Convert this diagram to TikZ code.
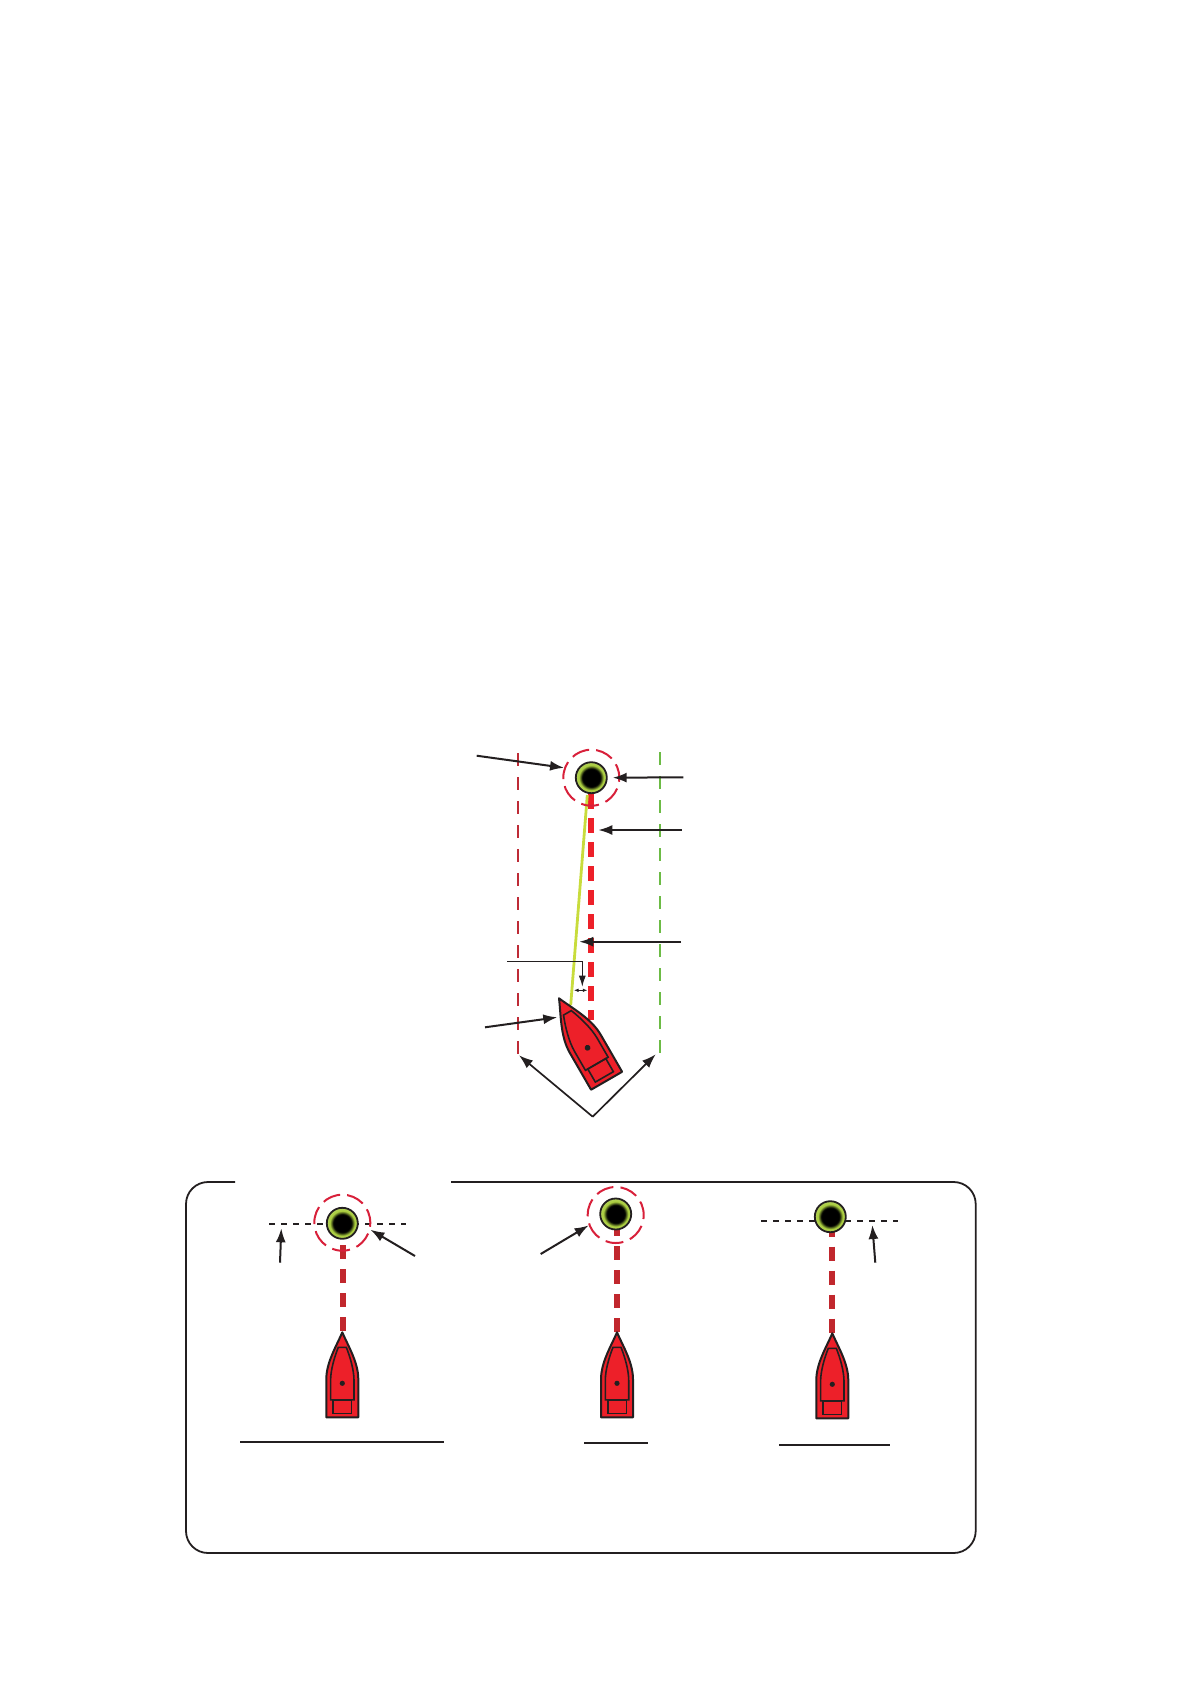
\documentclass[tikz,border=0pt]{standalone}
\usepackage{tikz}
\usetikzlibrary{arrows.meta}
\definecolor{hullred}{HTML}{ED2029}
\definecolor{routered}{HTML}{C1272D}
\definecolor{portred}{HTML}{BE2B36}
\definecolor{ringred}{HTML}{D8203A}
\definecolor{stbdgreen}{HTML}{6CBB45}
\definecolor{trackgreen}{HTML}{C8DC3C}
\definecolor{buoygreen}{HTML}{A9CC3E}
\definecolor{inkblack}{HTML}{231F20}
\pgfdeclareradialshading{buoyshade}{\pgfpointorigin}{color(0bp)=(black); color(14.5bp)=(black); color(20bp)=(buoygreen); color(25bp)=(buoygreen!85!white)}
\tikzset{
  buoy/.style={circle, draw=inkblack, line width=1.8pt, minimum size=31pt, inner sep=0pt, shading=buoyshade},
  ring/.style={circle, draw=ringred, line width=2pt, minimum size=56pt, inner sep=0pt, dash pattern=on 18pt off 7.1pt},
  callout/.style={draw=inkblack, line width=2pt, -{Latex[length=14pt,width=10pt]}},
  route/.style={draw=routered, line width=6pt, dash pattern=on 14pt off 10pt},
  rule/.style={draw=inkblack, line width=1.8pt},
  wpline/.style={draw=inkblack, line width=1.6pt, dash pattern=on 6pt off 6pt},
  boat/.pic={
    \draw[fill=hullred, draw=inkblack, line width=2pt, line join=round] (0,0) .. controls (6,14) and (16,30) .. (16,47) -- (16,85) -- (-16,85) -- (-16,47) .. controls (-16,30) and (-6,14) .. cycle;
    \draw[draw=inkblack, line width=1.6pt] (-4,15) -- (4,15) .. controls (8,25) and (11.7,38) .. (11.7,48) -- (11.7,67.5) -- (-11.7,67.5) -- (-11.7,48) .. controls (-11.7,38) and (-8,25) .. cycle;
    \draw[draw=inkblack, line width=1.6pt] (-9.3,67.5) rectangle (9.3,81);
    \fill[inkblack] (0,51) circle (2.6);
  }
}

\begin{document}
\begin{tikzpicture}[x=1pt,y=-1pt]
\useasboundingbox (0,0) rectangle (1190,1684);
% main view
\coordinate (portTop) at (518,753);
\coordinate (portEnd) at (518,1055);
\coordinate (stbdTop) at (660,752);
\coordinate (stbdEnd) at (660,1053);
\draw[portred, line width=2.2pt, dash pattern=on 13pt off 11pt] (portTop) -- (portEnd);
\draw[stbdgreen, line width=2.2pt, dash pattern=on 13pt off 11pt] (stbdTop) -- (stbdEnd);
\coordinate (routeTop) at (591,794.3);
\coordinate (routeEnd) at (591,1020);
\draw[hullred, line width=6pt, dash pattern=on 14.3pt off 9.7pt] (routeTop) -- (routeEnd);
\coordinate (trackTop) at (587.3,795);
\coordinate (trackEnd) at (570.7,1005);
\draw[trackgreen, line width=2.8pt] (trackTop) -- (trackEnd);
\node[ring, dash phase=4pt] (ringMain) at (591.3,777.7) {};
\node[buoy] (buoyMain) at (591.3,777.7) {};
\pic[rotate=30, scale=1.12] at (559,998.3) {boat};
\coordinate (tagRing) at (476.7,755.7);
\coordinate (tagBuoy) at (683.3,777.3);
\coordinate (tagRoute) at (681.7,830);
\coordinate (routeSide) at (598.3,830);
\coordinate (tagTrack) at (681,941.7);
\coordinate (trackSide) at (579.3,941.7);
\coordinate (tagBoat) at (485,1027.3);
\coordinate (boatSide) at (557.3,1017.3);
\coordinate (tagWidth) at (592.7,1116.7);
\coordinate (portTip) at (519,1055.3);
\coordinate (stbdTip) at (655.7,1054.3);
\draw[callout] (tagRing) -- (ringMain.160);
\draw[callout, shorten >=5pt] (tagBuoy) -- (buoyMain.east);
\draw[callout] (tagRoute) -- (routeSide);
\draw[callout] (tagTrack) -- (trackSide);
\draw[callout] (tagBoat) -- (boatSide);
\draw[callout, line width=1.7pt] (tagWidth) -- (portTip);
\draw[callout, line width=1.7pt] (tagWidth) -- (stbdTip);
% cross track error
\coordinate (xteFoot) at (507.3,961.3);
\coordinate (xteBend) at (582.3,961.3);
\coordinate (xteTip) at (582.3,986.7);
\coordinate (xteLeft) at (574,990.3);
\coordinate (xteRight) at (587.3,990.3);
\draw[draw=inkblack, line width=1.1pt, -{Latex[length=11pt,width=7pt]}] (xteFoot) -- (xteBend) -- (xteTip);
\draw[draw=inkblack, line width=0.7pt, {Latex[length=4.5pt,width=3.5pt]}-{Latex[length=4.5pt,width=3.5pt]}] (xteLeft) -- (xteRight);
% frame
\coordinate (frameA) at (451,1182);
\coordinate (frameB) at (975.7,1182);
\coordinate (frameC) at (975.7,1553);
\coordinate (frameD) at (186,1553);
\coordinate (frameE) at (186,1182);
\coordinate (frameF) at (235,1182);
\draw[draw=inkblack, line width=1.8pt, rounded corners=22pt] (frameA) -- (frameB) -- (frameC) -- (frameD) -- (frameE) -- (frameF);
% first panel
\coordinate (lineOneL) at (269,1223.7);
\coordinate (lineOneR) at (405.7,1223.7);
\draw[wpline] (lineOneL) -- (lineOneR);
\coordinate (routeOneTop) at (342.7,1245);
\coordinate (routeOneEnd) at (342.7,1331);
\draw[route] (routeOneTop) -- (routeOneEnd);
\node[ring, dash phase=4pt] (ringOne) at (342.3,1222.7) {};
\node[buoy] (buoyOne) at (342.3,1223.3) {};
\pic at (342.3,1332.3) {boat};
\coordinate (tagLineOne) at (280,1262.7);
\coordinate (lineOneTip) at (281.3,1228.3);
\coordinate (tagRingOne) at (415,1256);
\draw[callout] (tagLineOne) -- (lineOneTip);
\draw[callout] (tagRingOne) -- (ringOne.-14);
\coordinate (ruleOneL) at (240,1441.7);
\coordinate (ruleOneR) at (444,1441.7);
\draw[rule] (ruleOneL) -- (ruleOneR);
% second panel
\coordinate (routeTwoTop) at (617,1222);
\coordinate (routeTwoEnd) at (617,1332);
\draw[route] (routeTwoTop) -- (routeTwoEnd);
\node[ring, dash phase=4pt] (ringTwo) at (615.7,1215) {};
\node[buoy] (buoyTwo) at (615.7,1214) {};
\pic at (617,1332.3) {boat};
\coordinate (tagRingTwo) at (540.7,1254);
\draw[callout] (tagRingTwo) -- (ringTwo.201);
\coordinate (ruleTwoL) at (584,1443);
\coordinate (ruleTwoR) at (648,1443);
\draw[rule] (ruleTwoL) -- (ruleTwoR);
% third panel
\coordinate (lineThreeL) at (761,1221);
\coordinate (lineThreeR) at (898.3,1221);
\draw[wpline] (lineThreeL) -- (lineThreeR);
\coordinate (routeThreeTop) at (832.3,1222.7);
\coordinate (routeThreeEnd) at (832.3,1332.7);
\draw[route] (routeThreeTop) -- (routeThreeEnd);
\node[buoy] (buoyThree) at (830.3,1216.7) {};
\pic at (832.3,1333.3) {boat};
\coordinate (tagLineThree) at (875.3,1262.7);
\coordinate (lineThreeTip) at (872.3,1225);
\draw[callout] (tagLineThree) -- (lineThreeTip);
\coordinate (ruleThreeL) at (779,1445);
\coordinate (ruleThreeR) at (890,1445);
\draw[rule] (ruleThreeL) -- (ruleThreeR);
\end{tikzpicture}
\end{document}
